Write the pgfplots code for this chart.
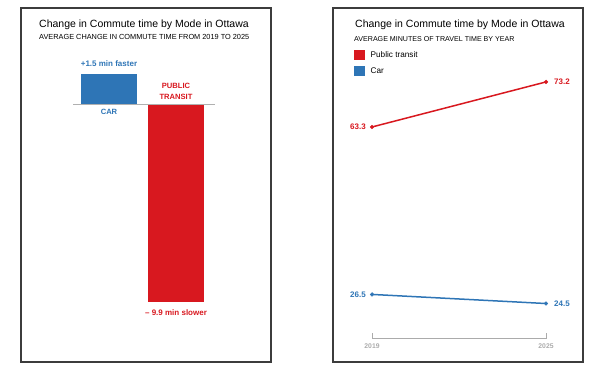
\documentclass[border=0pt]{standalone}
\usepackage{pgfplots}
\pgfplotsset{compat=1.18}
\usepackage{fontspec}
\setmainfont{Liberation Sans}
\definecolor{carblue}{HTML}{2E75B6}
\definecolor{transred}{HTML}{D8181F}
\definecolor{framegray}{HTML}{3C3C3C}
\definecolor{tickgray}{HTML}{ABABAB}
\definecolor{basegray}{HTML}{B0B0B0}
\begin{document}
\begin{tikzpicture}
\useasboundingbox (0,0) rectangle (608pt,377pt);
% ---------- Left panel: change in commute time ----------
\begin{axis}[
  at={(21pt,15pt)}, anchor=south west,
  width=250pt, height=354pt, scale only axis,
  xmin=-1.3134, xmax=2.4179, ymin=-12.9, ymax=4.8,
  xtick=\empty, ytick=\empty,
  axis line style={draw=framegray, line width=1.3pt},
  clip=false,
]
\addplot[ybar, bar shift=0pt, bar width=0.836, fill=carblue, draw=none] coordinates {(0,1.5)};
\addplot[ybar, bar shift=0pt, bar width=0.836, fill=transred, draw=none] coordinates {(1,-9.9)};
\draw[basegray, line width=0.8pt] (axis cs:-0.537,0) -- (axis cs:1.582,0);
\node[anchor=base west, inner sep=0pt, font=\fontsize{10.5}{12}\selectfont] at (axis description cs:0.072,0.946) {Change in Commute time by Mode in Ottawa};
\node[anchor=base west, inner sep=0pt, font=\fontsize{7.35}{9}\selectfont] at (axis description cs:0.072,0.9124) {AVERAGE CHANGE IN COMMUTE TIME FROM 2019 TO 2025};
\node[anchor=base, inner sep=0pt, text=carblue, font=\bfseries\fontsize{8}{9}\selectfont] at (axis cs:0,1.85) {+1.5 min faster};
\node[anchor=base, inner sep=0pt, text=transred, font=\bfseries\fontsize{7.6}{9}\selectfont] at (axis cs:1,0.75) {PUBLIC};
\node[anchor=base, inner sep=0pt, text=transred, font=\bfseries\fontsize{7.6}{9}\selectfont] at (axis cs:1,0.2) {TRANSIT};
\node[anchor=base, inner sep=0pt, text=carblue, font=\bfseries\fontsize{7.6}{9}\selectfont] at (axis cs:0,-0.55) {CAR};
\node[anchor=base, inner sep=0pt, text=transred, font=\bfseries\fontsize{8}{9}\selectfont] at (axis cs:1,-10.6) {– 9.9 min slower};
\end{axis}
% ---------- Right panel: minutes by year ----------
\begin{axis}[
  at={(333pt,15pt)}, anchor=south west,
  width=250pt, height=354pt, scale only axis,
  xmin=2017.655, xmax=2026.276, ymin=11.65, ymax=89.45,
  xtick=\empty, ytick=\empty,
  axis line style={draw=framegray, line width=1.3pt},
  clip=false,
  legend style={at={(axis description cs:0.084,0.881)}, anchor=north west,
    draw=none, fill=none, inner sep=0pt, row sep=6pt, column sep=5pt,
    font=\fontsize{8.2}{9}\selectfont,
    nodes={inner sep=1pt}},
  legend cell align=left,
  legend image code/.code={\fill[#1, draw=none] (0pt,-5pt) rectangle (10.5pt,5pt);},
]
\addplot[transred, line width=1.5pt, mark=*, mark size=1.9pt, mark options={line width=0.4pt}] coordinates {(2019,63.3) (2025,73.2)};
\addlegendentry{Public transit}
\addplot[carblue, line width=1.5pt, mark=*, mark size=1.9pt, mark options={line width=0.4pt}] coordinates {(2019,26.5) (2025,24.5)};
\addlegendentry{Car}
\node[anchor=base west, inner sep=0pt, font=\fontsize{10.5}{12}\selectfont] at (axis description cs:0.088,0.946) {Change in Commute time by Mode in Ottawa};
\node[anchor=base west, inner sep=0pt, font=\fontsize{7.1}{9}\selectfont] at (axis description cs:0.084,0.904) {AVERAGE MINUTES OF TRAVEL TIME BY YEAR};
\node[anchor=east, inner sep=0pt, xshift=-6pt, text=transred, font=\bfseries\fontsize{8}{9}\selectfont] at (axis cs:2019,63.3) {63.3};
\node[anchor=west, inner sep=0pt, xshift=8pt, text=transred, font=\bfseries\fontsize{8}{9}\selectfont] at (axis cs:2025,73.2) {73.2};
\node[anchor=east, inner sep=0pt, xshift=-6pt, text=carblue, font=\bfseries\fontsize{8}{9}\selectfont] at (axis cs:2019,26.5) {26.5};
\node[anchor=west, inner sep=0pt, xshift=8pt, text=carblue, font=\bfseries\fontsize{8}{9}\selectfont] at (axis cs:2025,24.5) {24.5};
\draw[tickgray, line width=0.8pt] (axis cs:2019,18.02) -- (axis cs:2019,16.92) -- (axis cs:2025,16.92) -- (axis cs:2025,18.02);
\node[anchor=center, inner sep=0pt, text=tickgray, font=\bfseries\fontsize{6.8}{7}\selectfont] at (axis cs:2019,15.16) {2019};
\node[anchor=center, inner sep=0pt, text=tickgray, font=\bfseries\fontsize{6.8}{7}\selectfont] at (axis cs:2025,15.16) {2025};
\end{axis}
\end{tikzpicture}
\end{document}
